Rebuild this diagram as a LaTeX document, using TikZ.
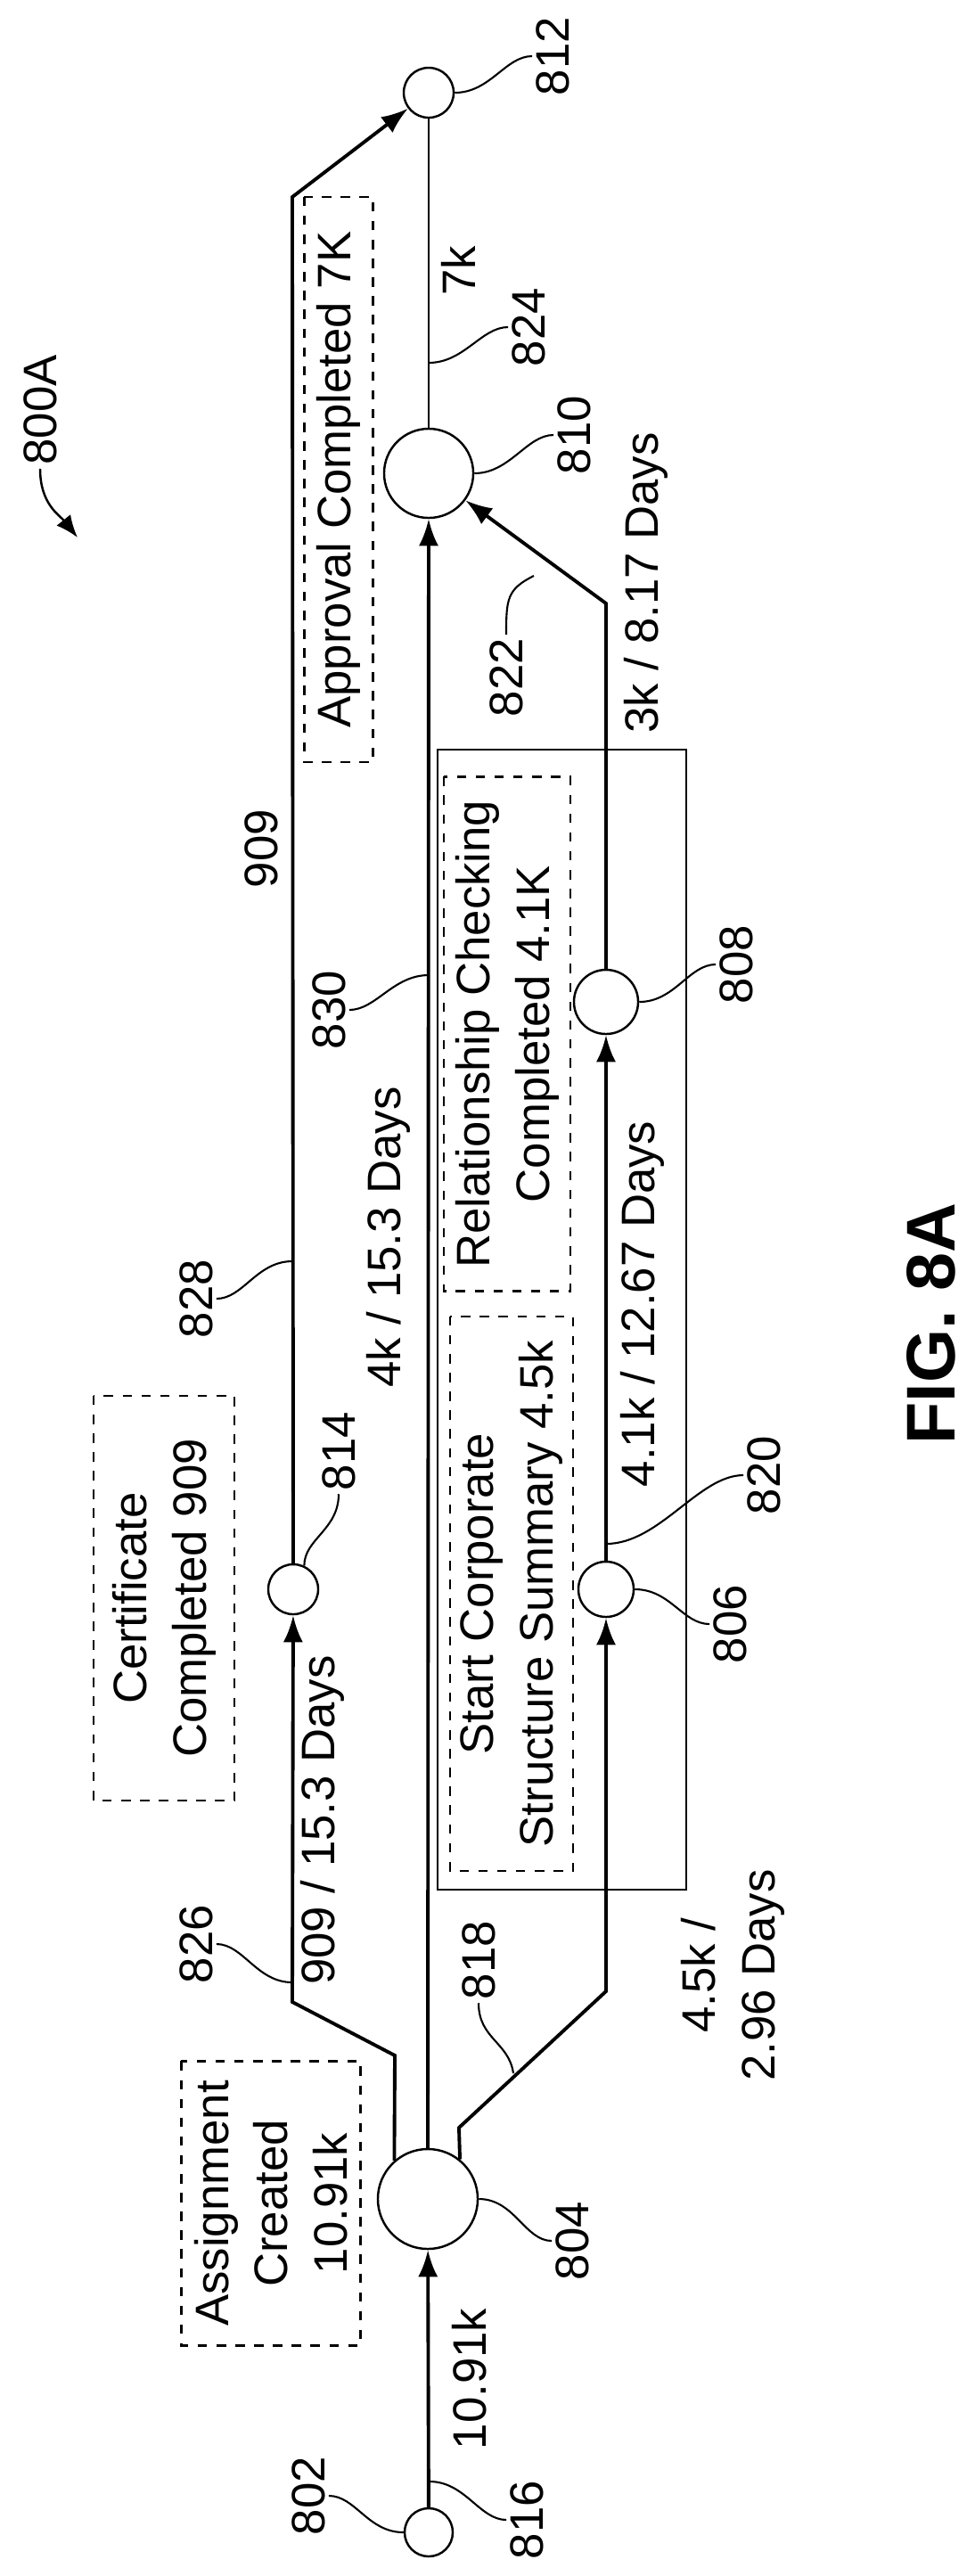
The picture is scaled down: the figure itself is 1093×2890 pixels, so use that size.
\documentclass[tikz,border=0pt]{standalone}
\usepackage{fontspec}
\setmainfont{Liberation Sans}
\usetikzlibrary{arrows.meta, positioning}

\tikzset{
  state/.style={circle, draw, line width=0.7pt, minimum size=#1, inner sep=0pt},
  flow/.style={line width=1.1pt, -{Latex[length=3mm,width=2.2mm]}},
  tag/.style={draw, dashed, line width=0.7pt, rotate=90, align=center, inner sep=2pt},
  txt/.style={rotate=90, align=center, inner sep=1pt, font=\fontsize{15}{19}\selectfont},
  lead/.style={line width=0.6pt}
}

\begin{document}
\begin{tikzpicture}[x=0.01cm, y=-0.01cm]
  \useasboundingbox (0,0) rectangle (1093,2890);

  % states
  \node[state=0.54cm] (s802) at (481,2841) {};
  \node[state=1.12cm] (s804) at (480,2467) {};
  \node[state=0.56cm] (s814) at (329,1783) {};
  \node[state=0.62cm] (s806) at (680,1783) {};
  \node[state=0.72cm] (s808) at (680,1124) {};
  \node[state=1.00cm] (s810) at (481,531) {};
  \node[state=0.56cm] (s812) at (481,104) {};

  % bends
  \coordinate (b826a) at (443,2306);
  \coordinate (b826b) at (328,2246);
  \coordinate (b818a) at (515,2387);
  \coordinate (b818b) at (680,2234);
  \coordinate (b828) at (328,221);
  \coordinate (b822) at (680,677);

  % flows
  \draw[flow] (s802) -- (s804);
  \draw[flow] (s804.131) -- (b826a) -- (b826b) -- (s814);
  \draw[flow] (s804.51) -- (b818a) -- (b818b) -- (s806);
  \draw[flow] (s804) -- (s810);
  \draw[flow] (s814) -- (b828) -- (s812);
  \draw[flow] (s806) -- (s808);
  \draw[flow] (s808) -- (b822) -- (s810);
  \draw[line width=0.6pt] (s810) -- (s812);

  % frame round the middle stage
  \draw[line width=0.7pt] (491,841) rectangle (770,2120);

  % dashed tags
  \node[tag, minimum width=3.19cm, minimum height=2.01cm, font=\fontsize{15}{19}\selectfont]
    (tAssign) at (304,2472) {Assignment\\Created\\10.91k};
  \node[tag, minimum width=4.54cm, minimum height=1.58cm, font=\fontsize{15}{19}\selectfont]
    (tCert) at (184,1793) {Certificate\\Completed 909};
  \node[tag, minimum width=6.22cm, minimum height=1.38cm, font=\fontsize{15}{19}\selectfont]
    (tStart) at (574,1788) {Start Corporate\\Structure Summary 4.5k};
  \node[tag, minimum width=5.77cm, minimum height=1.42cm, font=\fontsize{15}{19}\selectfont]
    (tRel) at (569,1160) {Relationship Checking\\Completed 4.1K};
  \node[tag, minimum width=6.34cm, minimum height=0.77cm, font=\fontsize{15}{19}\selectfont]
    (tAppr) at (380,538) {Approval Completed 7K};

  % flow labels
  \node[txt] (f816) at (527,2669) {10.91k};
  \node[txt] (f826) at (362,2042) {909 / 15.3 Days};
  \node[txt] (f818) at (822,2216) {4.5k /\\2.96 Days};
  \node[txt] (f830) at (436,1388) {4k / 15.3 Days};
  \node[txt] (f828) at (293,952) {909};
  \node[txt] (f820) at (721,1463) {4.1k / 12.67 Days};
  \node[txt] (f822) at (725,654) {3k / 8.17 Days};
  \node[txt] (f824) at (514,304) {7k};

  % reference numerals
  \node[txt] (n802) at (346,2800) {802};
  \node[txt] (n816) at (591,2827) {816};
  \node[txt] (n804) at (642,2514) {804};
  \node[txt] (n818) at (537,2199) {818};
  \node[txt] (n826) at (220,2181) {826};
  \node[txt] (n814) at (380,1628) {814};
  \node[txt] (n806) at (819,1822) {806};
  \node[txt] (n820) at (857,1655) {820};
  \node[txt] (n828) at (220,1457) {828};
  \node[txt] (n830) at (369,1133) {830};
  \node[txt] (n808) at (826,1082) {808};
  \node[txt] (n822) at (568,760) {822};
  \node[txt] (n810) at (644,488) {810};
  \node[txt] (n824) at (593,367) {824};
  \node[txt] (n812) at (620,63) {812};
  \node[txt] (n800) at (45,460) {800A};
  \node[rotate=90, font=\fontsize{22}{26}\selectfont\bfseries] (fig) at (1045,1485) {FIG. 8A};

  % leader points
  \coordinate (p816) at (482,2784);
  \coordinate (p818) at (576,2326);
  \coordinate (p826) at (328,2224);
  \coordinate (p820) at (680,1732);
  \coordinate (p828) at (328,1415);
  \coordinate (p830) at (481,1094);
  \coordinate (p822) at (599,646);
  \coordinate (p824) at (481,407);
  \coordinate (p800) at (87,603);

  % leaders
  \draw[lead] (s802.west) .. controls +(-40,0) and +(30,0) .. (n802.south);
  \draw[lead] (p816) .. controls +(40,0) and +(-30,0) .. (n816.north);
  \draw[lead] (s804.east) .. controls +(40,0) and +(-30,0) .. (n804.north);
  \draw[lead] (p818) .. controls +(-5,-35) and +(0,40) .. (n818.west);
  \draw[lead] (p826) .. controls +(-40,0) and +(30,0) .. (n826.south);
  \draw[lead] (s814.65) .. controls +(0,-30) and +(0,40) .. (n814.west);
  \draw[lead] (s806.east) .. controls +(40,0) and +(-30,0) .. (n806.north);
  \draw[lead] (p820) .. controls +(60,0) and +(-50,0) .. (n820.north);
  \draw[lead] (p828) .. controls +(-40,0) and +(30,0) .. (n828.south);
  \draw[lead] (p830) .. controls +(-40,0) and +(30,0) .. (n830.south);
  \draw[lead] (s808.east) .. controls +(40,0) and +(-30,0) .. (n808.north);
  \draw[lead] (p822) .. controls +(-30,15) and +(0,-40) .. (n822.east);
  \draw[lead] (s810.east) .. controls +(40,0) and +(-30,0) .. (n810.north);
  \draw[lead] (p824) .. controls +(40,0) and +(-30,0) .. (n824.north);
  \draw[lead] (s812.east) .. controls +(40,0) and +(-30,0) .. (n812.north);
  \draw[line width=0.7pt, -{Latex[length=2.5mm,width=2mm]}] (n800.west) .. controls +(0,40) and +(-20,-25) .. (p800);
\end{tikzpicture}
\end{document}
